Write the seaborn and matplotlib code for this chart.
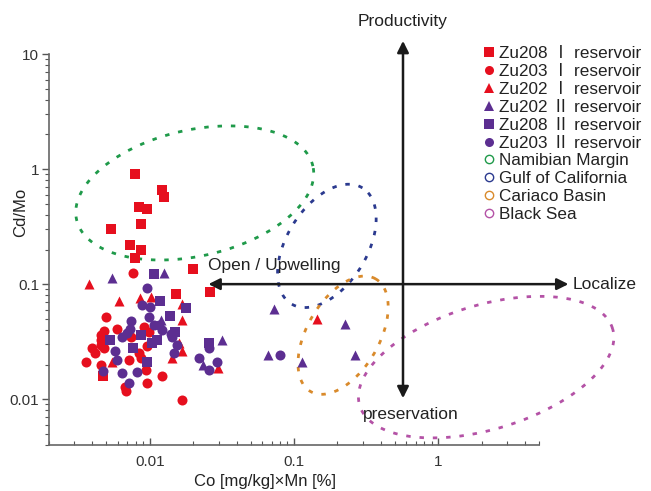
import numpy as np
import pandas as pd
import matplotlib
matplotlib.use("Agg")
import matplotlib.pyplot as plt
import seaborn as sns
from matplotlib.lines import Line2D
from matplotlib.ticker import FixedLocator, LogLocator, NullFormatter

sns.set_style("ticks")
plt.rcParams['font.family'] = ['Liberation Sans', 'Noto Sans CJK SC', 'DejaVu Sans']

# ---------------- data ----------------
zu208_1_x = [0.0079, 0.0121, 0.0125, 0.0084, 0.0095, 0.0087, 0.0054, 0.0073, 0.0087, 0.0079,
             0.020, 0.026, 0.0152, 0.0047]
zu208_1_y = [0.91, 0.66, 0.57, 0.47, 0.45, 0.33, 0.30, 0.22, 0.20, 0.17,
             0.135, 0.085, 0.082, 0.016]

zu203_1_x = [0.0076, 0.0050, 0.0059, 0.0048, 0.0046, 0.0046, 0.0046, 0.0091, 0.0098, 0.0074,
             0.0040, 0.0042, 0.0048, 0.0036, 0.0095, 0.0084, 0.0087, 0.0072, 0.0046, 0.0095,
             0.0067, 0.0068, 0.0094, 0.0121, 0.0167]
zu203_1_y = [0.125, 0.052, 0.041, 0.039, 0.036, 0.033, 0.0295, 0.042, 0.038, 0.035,
             0.028, 0.025, 0.028, 0.021, 0.029, 0.025, 0.023, 0.022, 0.020, 0.0138,
             0.0127, 0.0117, 0.018, 0.016, 0.0098]

zu202_1_x = [0.0038, 0.0061, 0.0085, 0.0102, 0.0167, 0.0167, 0.0159, 0.0167, 0.0142, 0.0055,
             0.0297, 0.145]
zu202_1_y = [0.100, 0.071, 0.076, 0.077, 0.067, 0.049, 0.031, 0.026, 0.023, 0.021,
             0.0186, 0.050]

zu202_2_x = [0.0055, 0.0125, 0.0119, 0.0316, 0.0233, 0.073, 0.066, 0.114, 0.226, 0.265]
zu202_2_y = [0.113, 0.125, 0.049, 0.033, 0.020, 0.061, 0.024, 0.021, 0.045, 0.024]

zu208_2_x = [0.0107, 0.0117, 0.0178, 0.0138, 0.0149, 0.0087, 0.0103, 0.0112, 0.0053, 0.0076,
             0.0095, 0.0257]
zu208_2_y = [0.122, 0.071, 0.062, 0.053, 0.038, 0.036, 0.031, 0.033, 0.033, 0.028,
             0.021, 0.031]

zu203_2_x = [0.0095, 0.0088, 0.0100, 0.0074, 0.0098, 0.0107, 0.0116, 0.0121, 0.0073, 0.0069,
             0.0064, 0.0140, 0.0142, 0.0154, 0.0147, 0.0057, 0.0059, 0.0047, 0.0064, 0.0081,
             0.0072, 0.0257, 0.0219, 0.0257, 0.0292, 0.080]
zu203_2_y = [0.092, 0.066, 0.063, 0.048, 0.052, 0.044, 0.044, 0.040, 0.041, 0.0375,
             0.035, 0.037, 0.035, 0.0295, 0.025, 0.026, 0.022, 0.0175, 0.0168, 0.0172,
             0.0138, 0.028, 0.023, 0.018, 0.021, 0.024]

series_names = ["Zu208 Ⅰ reservoir", "Zu203 Ⅰ reservoir", "Zu202 Ⅰ reservoir",
                "Zu202 Ⅱ reservoir", "Zu208 Ⅱ reservoir", "Zu203 Ⅱ reservoir"]
series_x = [zu208_1_x, zu203_1_x, zu202_1_x, zu202_2_x, zu208_2_x, zu203_2_x]
series_y = [zu208_1_y, zu203_1_y, zu202_1_y, zu202_2_y, zu208_2_y, zu203_2_y]

# environment fields: name, centre (x, y), semi-axes (px-equivalent), angle (deg)
field_names = ["Namibian Margin", "Gulf of California", "Cariaco Basin", "Black Sea"]
field_centers = [(0.0205, 0.62), (0.169, 0.215), (0.219, 0.036), (2.15, 0.019)]
field_axes = [(121, 63), (68, 40), (65, 36), (132, 62)]
field_angles = [12.8, 58.5, 60.0, 17.0]

x_ticks = [0.01, 0.1, 1]
x_ticklabels = ["0.01", "0.1", "1"]
y_ticks = [0.01, 0.1, 1, 10]
y_ticklabels = ["0.01", "0.1", "1", "10"]

# ---------------- styles ----------------
RED = "#e60f1e"
PURPLE = "#5c2e91"
colors = [RED, RED, RED, PURPLE, PURPLE, PURPLE]
markers = ["s", "o", "^", "^", "s", "o"]
sizes = [42, 52, 52, 52, 42, 52]
field_colors = ["#1f9a4a", "#2b3a8f", "#d98a2b", "#b452a6"]
TXT = "#222222"
FS = 12.5

# ---------------- figure ----------------
fig = plt.figure(figsize=(6.51, 4.91), dpi=100)
ax = fig.add_axes([49 / 651, 1 - 445 / 491, (539 - 49) / 651, (445 - 54) / 491])
ax.set_xscale("log")
ax.set_yscale("log")
ax.set_xlim(0.002, 5)
ax.set_ylim(0.004, 10)

SX, SY = 144.0, 115.0  # px per decade


def ellipse(center, axes_, ang):
    cx, cy = center
    a, b = axes_
    th = np.deg2rad(ang)
    t = np.linspace(0, 2 * np.pi, 300)
    u0, v0 = np.log10(cx) * SX, np.log10(cy) * SY
    u = u0 + a * np.cos(t) * np.cos(th) - b * np.sin(t) * np.sin(th)
    v = v0 + a * np.cos(t) * np.sin(th) + b * np.sin(t) * np.cos(th)
    return 10 ** (u / SX), 10 ** (v / SY)


for c, ab, ang, col in zip(field_centers, field_axes, field_angles, field_colors):
    ex, ey = ellipse(c, ab, ang)
    ax.plot(ex, ey, color=col, lw=2.0, ls=(0, (1.6, 3.2)), clip_on=False, zorder=1)

# arrows
arrow_kw = dict(arrowstyle="<|-|>", color="#1a1a1a", lw=1.8, mutation_scale=17,
                shrinkA=0, shrinkB=0)
ax.annotate("", xy=(0.57, 13.0), xytext=(0.57, 0.0102), xycoords="data",
            arrowprops=arrow_kw, annotation_clip=False, zorder=2)
ax.annotate("", xy=(8.0, 0.1), xytext=(0.0255, 0.1), xycoords="data",
            arrowprops=arrow_kw, annotation_clip=False, zorder=2)

frames = []
for name, xs, ys in zip(series_names, series_x, series_y):
    frames.append(pd.DataFrame({"x": xs, "y": ys, "series": name}))
df = pd.concat(frames, ignore_index=True)

for name, col, mk, s in zip(series_names, colors, markers, sizes):
    sub = df[df["series"] == name]
    sns.scatterplot(data=sub, x="x", y="y", color=col, marker=mk, s=s,
                    linewidth=0, ax=ax, legend=False, zorder=3)

ax.set_xlabel("Co [mg/kg]×Mn [%]", fontsize=12, color=TXT)
ax.set_ylabel("Cd/Mo", fontsize=12, color=TXT)
ax.xaxis.label.set_verticalalignment("center")
ax.yaxis.label.set_verticalalignment("center")
ax.xaxis.set_label_coords(0.44, -0.093)
ax.yaxis.set_label_coords(-0.058, 0.596)

ax.xaxis.set_major_locator(FixedLocator(x_ticks))
ax.set_xticklabels(x_ticklabels)
ax.yaxis.set_major_locator(FixedLocator(y_ticks))
ax.set_yticklabels(y_ticklabels)
ax.xaxis.set_minor_locator(LogLocator(base=10, subs=np.arange(2, 10)))
ax.yaxis.set_minor_locator(LogLocator(base=10, subs=np.arange(2, 10)))
ax.xaxis.set_minor_formatter(NullFormatter())
ax.yaxis.set_minor_formatter(NullFormatter())

ax.tick_params(axis="x", which="major", direction="in", length=5, width=1, color="#555555",
               labelsize=11, labelcolor="#333333", pad=7)
ax.tick_params(axis="x", which="minor", direction="in", length=3, width=0.8, color="#555555")
ax.tick_params(axis="y", which="major", direction="out", length=5, width=1, color="#555555",
               labelsize=11, labelcolor="#333333", pad=2)
ax.tick_params(axis="y", which="minor", direction="out", length=3, width=0.8, color="#555555")

sns.despine(ax=ax)
for sp in ["left", "bottom"]:
    ax.spines[sp].set_color("#666666")
    ax.spines[sp].set_linewidth(1.2)

# annotation texts
ax.text(0.57, 19, "Productivity", ha="center", va="center", fontsize=FS, color=TXT,
        clip_on=False)
ax.text(8.6, 0.1, "Localize", ha="left", va="center", fontsize=FS, color=TXT,
        clip_on=False)
ax.text(0.0253, 0.145, "Open / Upwelling", ha="left", va="center", fontsize=FS, color=TXT)
ax.text(0.30, 0.0074, "preservation", ha="left", va="center", fontsize=FS, color=TXT)

# legend
handles = []
for name, col, mk in zip(series_names, colors, markers):
    handles.append(Line2D([], [], ls="none", marker=mk, color=col, markersize=6.5,
                          markeredgewidth=0))
for name, col in zip(field_names, field_colors):
    handles.append(Line2D([], [], ls="none", marker="o", markerfacecolor="none",
                          markeredgecolor=col, markersize=6, markeredgewidth=1.0))
leg = fig.legend(handles, series_names + field_names, loc="upper left",
                 bbox_to_anchor=(484 / 651, 1 - 46 / 491), frameon=False,
                 fontsize=12.3, handlelength=0.6, handletextpad=0.25,
                 labelspacing=0.17, borderpad=0, borderaxespad=0)
for t in leg.get_texts():
    t.set_color(TXT)

fig.savefig("out.png", dpi=100)
